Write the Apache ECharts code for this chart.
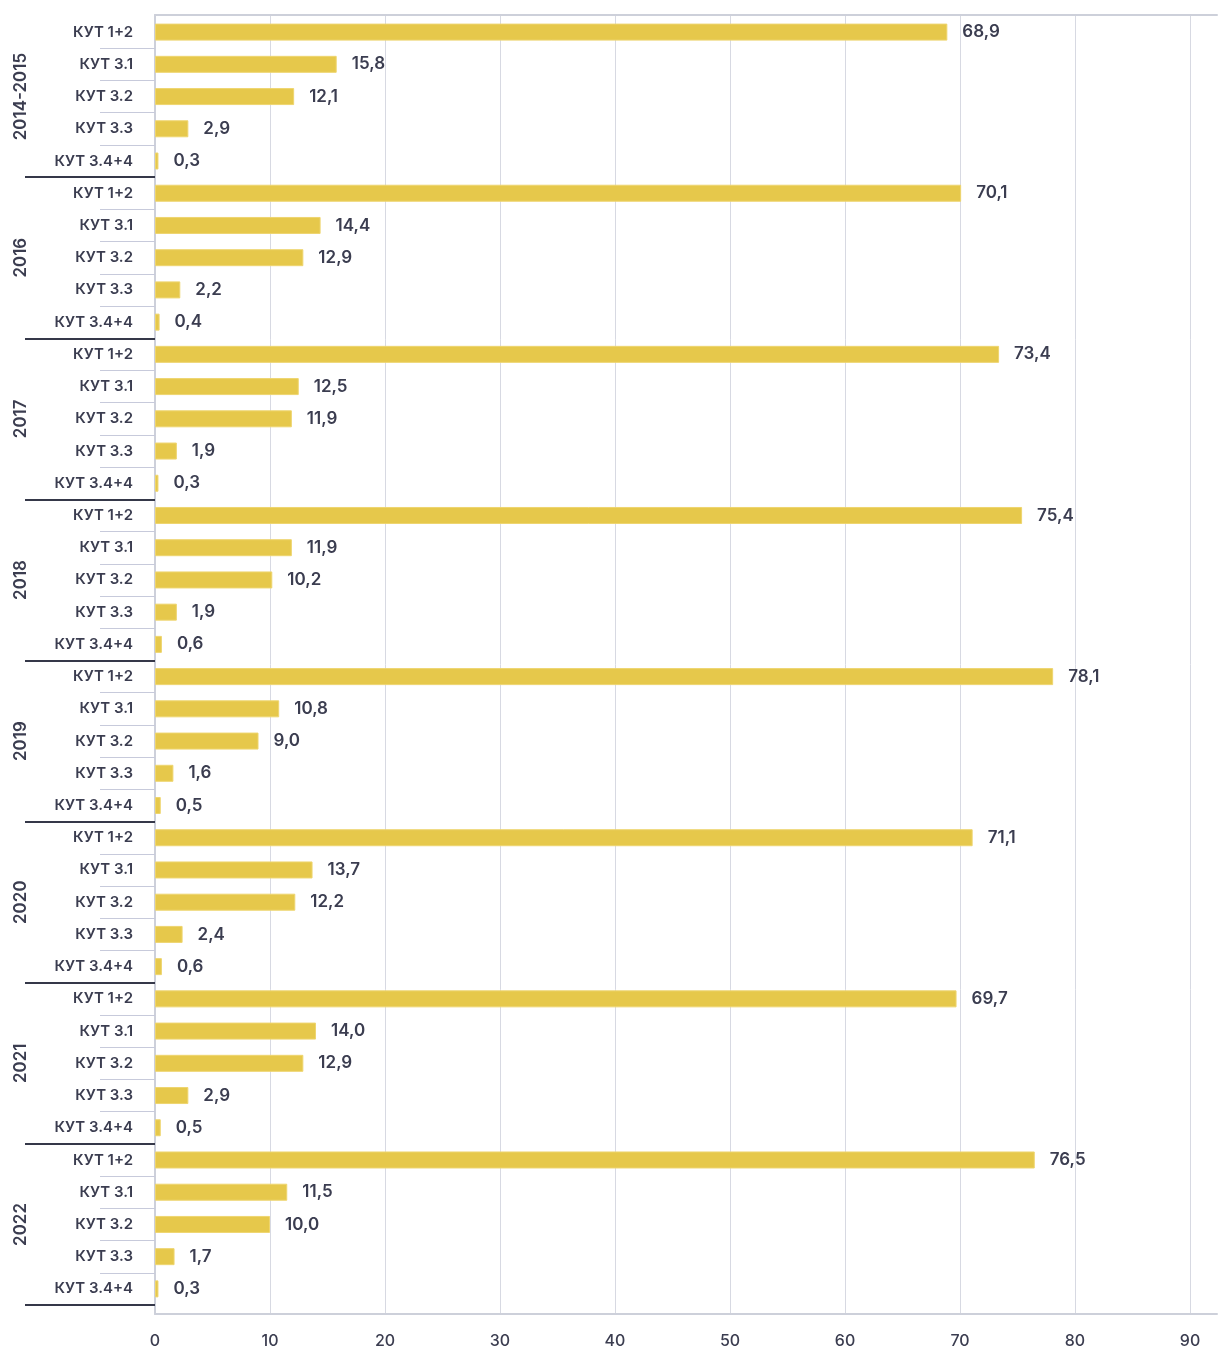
<!DOCTYPE html>
<html>
<head>
<meta charset="utf-8">
<script src="https://cdn.jsdelivr.net/npm/echarts@6/dist/echarts.min.js"></script>
<style>
html,body{margin:0;padding:0;background:#fff;}
#chart{width:1219px;height:1349px;}
</style>
</head>
<body>
<div id="chart"></div>
<script>
const years = ['2014-2015', '2016', '2017', '2018', '2019', '2020', '2021', '2022'];
const kutLabels = ['КУТ 1+2', 'КУТ 3.1', 'КУТ 3.2', 'КУТ 3.3', 'КУТ 3.4+4'];
const values2014_2015 = [68.9, 15.8, 12.1, 2.9, 0.3];
const values2016 = [70.1, 14.4, 12.9, 2.2, 0.4];
const values2017 = [73.4, 12.5, 11.9, 1.9, 0.3];
const values2018 = [75.4, 11.9, 10.2, 1.9, 0.6];
const values2019 = [78.1, 10.8, 9.0, 1.6, 0.5];
const values2020 = [71.1, 13.7, 12.2, 2.4, 0.6];
const values2021 = [69.7, 14.0, 12.9, 2.9, 0.5];
const values2022 = [76.5, 11.5, 10.0, 1.7, 0.3];
const xTicks = [0, 10, 20, 30, 40, 50, 60, 70, 80, 90];

const groups = [values2014_2015, values2016, values2017, values2018, values2019, values2020, values2021, values2022];
const categories = [];
const values = [];
years.forEach((y, gi) => {
  kutLabels.forEach((k, ki) => {
    categories.push(y + '|' + k);
    values.push(groups[gi][ki]);
  });
});
const perGroup = kutLabels.length;

const textColor = '#3b3d50';
const font = 'Inter, "Noto Sans", sans-serif';

const chart = echarts.init(document.getElementById('chart'));
chart.setOption({
  animation: false,
  backgroundColor: '#ffffff',
  grid: [
    {left: 155, top: 16, width: 1035, height: 1289},
    {left: 155, top: 15, width: 1035, height: 1299},
    {left: 155, top: 15, right: 2, height: 1299}
  ],
  xAxis: [
    {gridIndex: 0, type: 'value', min: xTicks[0], max: xTicks[xTicks.length - 1], show: false},
    {gridIndex: 1, type: 'value', min: xTicks[0], max: xTicks[xTicks.length - 1], interval: 10,
      axisLine: {show: false}, axisTick: {show: false},
      splitLine: {show: true, lineStyle: {color: '#d7d9e2', width: 1}},
      axisLabel: {margin: 19, color: textColor, fontSize: 16, fontWeight: 500, fontFamily: font}},
    {gridIndex: 2, type: 'value', min: 0, max: 1, position: 'bottom',
      axisLine: {show: true, lineStyle: {color: '#cdd0da', width: 2}},
      axisTick: {show: false}, axisLabel: {show: false}, splitLine: {show: false}},
    {gridIndex: 2, type: 'value', min: 0, max: 1, position: 'top',
      axisLine: {show: true, lineStyle: {color: '#cdd0da', width: 2}},
      axisTick: {show: false}, axisLabel: {show: false}, splitLine: {show: false}}
  ],
  yAxis: [
    {gridIndex: 0, type: 'category', data: categories, inverse: true, position: 'left',
      axisLine: {show: false},
      axisTick: {show: true, length: 55, interval: (idx) => idx % perGroup !== 0,
        lineStyle: {color: '#c7cadb', width: 1}},
      axisLabel: {interval: 0, margin: 22, color: textColor, fontSize: 15, fontWeight: 600,
        fontFamily: font, formatter: (v) => v.split('|')[1]}},
    {gridIndex: 0, type: 'category', data: categories, inverse: true, position: 'left',
      axisLine: {show: false}, axisLabel: {show: false},
      axisTick: {show: true, length: 130, interval: (idx) => idx % perGroup === 0 && idx > 0,
        lineStyle: {color: '#353849', width: 2}}},
    {gridIndex: 0, type: 'category', data: years, inverse: true, position: 'left',
      axisLine: {show: false}, axisTick: {show: false},
      axisLabel: {interval: 0, rotate: 90, margin: 126, color: textColor, fontSize: 17,
        fontWeight: 600, fontFamily: font}},
    {gridIndex: 1, type: 'value', min: 0, max: 1, show: false},
    {gridIndex: 2, type: 'value', min: 0, max: 1, position: 'left',
      axisLine: {show: true, lineStyle: {color: '#cdd0da', width: 2}},
      axisTick: {show: false}, axisLabel: {show: false}, splitLine: {show: false}}
  ],
  series: [{
    type: 'bar',
    xAxisIndex: 0,
    yAxisIndex: 0,
    data: values,
    barWidth: 17,
    itemStyle: {color: '#e6c84b', borderColor: '#eed56f', borderWidth: 1},
    label: {show: true, position: 'right', distance: 15, color: textColor, fontSize: 17,
      fontWeight: 600, fontFamily: font,
      formatter: (p) => p.value.toFixed(1).replace('.', ',')}
  }]
});
</script>
</body>
</html>
